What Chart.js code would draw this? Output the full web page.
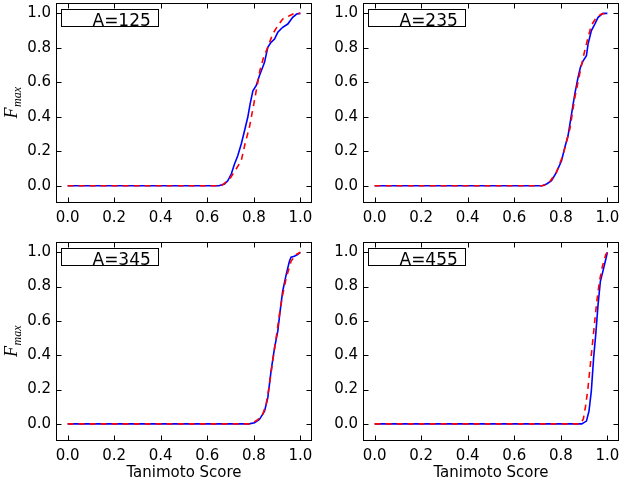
<!DOCTYPE html>
<html>
<head>
<meta charset="utf-8">
<script src="https://cdn.jsdelivr.net/npm/chart.js@4.4.1/dist/chart.umd.min.js"></script>
<style>
  html, body { margin: 0; padding: 0; background: #fff; }
  #wrap { position: relative; width: 626px; height: 482px; }
  canvas { position: absolute; }
</style>
</head>
<body>
<div id="wrap">
  <canvas id="c125" width="313" height="236" style="left:0;top:0"></canvas>
  <canvas id="c235" width="313" height="236" style="left:313px;top:0"></canvas>
  <canvas id="c345" width="313" height="246" style="left:0;top:236px"></canvas>
  <canvas id="c455" width="313" height="246" style="left:313px;top:236px"></canvas>
</div>
<script>
/* ---- data ---- */
const xTicks = [0, 0.2, 0.4, 0.6, 0.8, 1.0];
const yTicks = [0, 0.2, 0.4, 0.6, 0.8, 1.0];
const panelLabels = ['A=125', 'A=235', 'A=345', 'A=455'];

// A=125
const blue125X = [0, 0.65, 0.674, 0.688, 0.703, 0.717, 0.731, 0.746, 0.76, 0.774, 0.784, 0.796, 0.81, 0.824, 0.838, 0.846, 0.86, 0.874, 0.889, 0.903, 0.924, 0.946, 0.967, 0.984, 1.0];
const blue125Y = [0, 0, 0.01, 0.029, 0.068, 0.126, 0.174, 0.242, 0.319, 0.397, 0.474, 0.551, 0.58, 0.638, 0.687, 0.716, 0.803, 0.832, 0.851, 0.89, 0.919, 0.938, 0.977, 0.996, 1.0];
const red125X = [0, 0.66, 0.696, 0.724, 0.746, 0.762, 0.781, 0.8, 0.813, 0.826, 0.842, 0.86, 0.881, 0.903, 0.924, 0.953, 0.974, 1.0];
const red125Y = [0, 0, 0.039, 0.097, 0.145, 0.242, 0.339, 0.474, 0.571, 0.667, 0.745, 0.803, 0.88, 0.928, 0.967, 0.986, 1.0, 1.0];

// A=235
const blue235X = [0, 0.72, 0.739, 0.76, 0.781, 0.803, 0.817, 0.831, 0.846, 0.86, 0.874, 0.884, 0.896, 0.91, 0.917, 0.924, 0.931, 0.946, 0.96, 0.981, 1.0];
const blue235Y = [0, 0, 0.01, 0.029, 0.078, 0.145, 0.222, 0.29, 0.416, 0.532, 0.629, 0.686, 0.725, 0.754, 0.822, 0.86, 0.899, 0.938, 0.977, 1.0, 1.0];
const red235X = [0, 0.72, 0.745, 0.781, 0.81, 0.839, 0.86, 0.881, 0.896, 0.917, 0.931, 0.953, 0.974, 1.0];
const red235Y = [0, 0, 0.01, 0.078, 0.18, 0.33, 0.51, 0.648, 0.745, 0.86, 0.93, 0.977, 0.996, 1.0];

// A=345
const blue345X = [0, 0.78, 0.803, 0.824, 0.846, 0.86, 0.874, 0.889, 0.903, 0.913, 0.924, 0.939, 0.953, 0.96, 0.974, 0.988, 1.0];
const blue345Y = [0, 0, 0.006, 0.025, 0.074, 0.151, 0.307, 0.443, 0.54, 0.657, 0.773, 0.87, 0.948, 0.971, 0.977, 0.987, 1.0];
const red345X = [0, 0.78, 0.796, 0.817, 0.838, 0.853, 0.867, 0.881, 0.898, 0.91, 0.924, 0.939, 0.96, 0.981, 1.0];
const red345Y = [0, 0, 0.006, 0.025, 0.054, 0.113, 0.229, 0.365, 0.52, 0.637, 0.753, 0.85, 0.948, 0.987, 1.0];

// A=455
const blue455X = [0, 0.89, 0.91, 0.921, 0.931, 0.941, 0.95, 0.96, 0.97, 0.981, 0.993, 1.0];
const blue455Y = [0, 0, 0.016, 0.074, 0.19, 0.385, 0.52, 0.695, 0.831, 0.89, 0.958, 1.0];
const red455X = [0, 0.885, 0.897, 0.906, 0.916, 0.928, 0.94, 0.953, 0.966, 0.979, 0.993, 1.0];
const red455Y = [0, 0, 0.03, 0.1, 0.2, 0.36, 0.52, 0.695, 0.831, 0.92, 0.986, 1.0];

/* ---- drawing ---- */
const FONT = 'DejaVu Sans';
const pts = (xs, ys) => xs.map((v, i) => ({ x: v, y: ys[i] }));

// box, inward ticks, legend box and y label
const framePlugin = {
    id: 'frame',
    afterDraw(chart, args, opts) {
        const { ctx, chartArea: a, scales: { x, y } } = chart;
        const L = Math.round(a.left) + 0.5, R = Math.round(a.right) - 0.5;
        const T = Math.round(a.top) + 0.5, B = Math.round(a.bottom) - 0.5;
        ctx.save();
        ctx.strokeStyle = '#000';
        ctx.lineWidth = 1;
        ctx.beginPath();
        xTicks.forEach(v => {
            const px = Math.round(x.getPixelForValue(v)) + 0.5;
            ctx.moveTo(px, B); ctx.lineTo(px, B - 5);
            ctx.moveTo(px, T); ctx.lineTo(px, T + 5);
        });
        yTicks.forEach(v => {
            const py = Math.round(y.getPixelForValue(v)) + 0.5;
            ctx.moveTo(L, py); ctx.lineTo(L + 5, py);
            ctx.moveTo(R, py); ctx.lineTo(R - 5, py);
        });
        ctx.stroke();
        ctx.strokeRect(L, T, R - L, B - T);

        // legend box
        const bx = L + 5, by = T + 6;
        ctx.fillStyle = '#fff';
        ctx.fillRect(bx, by, 97, 17);
        ctx.strokeRect(bx, by, 97, 17);
        ctx.fillStyle = '#000';
        ctx.font = '17px "' + FONT + '"';
        ctx.textBaseline = 'alphabetic';
        ctx.textAlign = 'left';
        ctx.fillText(opts.label, bx + 31, by + 16);

        // y label F_max
        if (opts.yLabel) {
            ctx.translate(16.5, (a.top + a.bottom) / 2);
            ctx.rotate(-Math.PI / 2);
            ctx.font = 'italic 18px "Liberation Serif"';
            const wF = ctx.measureText('F').width;
            ctx.font = 'italic 12px "Liberation Serif"';
            const wS = ctx.measureText('max').width;
            const start = -(wF + wS) / 2;
            ctx.font = 'italic 18px "Liberation Serif"';
            ctx.fillText('F', start, 0);
            ctx.font = 'italic 12px "Liberation Serif"';
            ctx.fillText('max', start + wF + 0.5, 4);
        }
        ctx.restore();
    }
};

function makePanel(id, label, blueX, blueY, redX, redY, cfg) {
    const tickFont = { family: FONT, size: 15 };
    new Chart(document.getElementById(id), {
        type: 'line',
        data: {
            datasets: [
                { data: pts(blueX, blueY), borderColor: '#0000ff', borderWidth: 1.6, pointRadius: 0, order: 2 },
                { data: pts(redX, redY), borderColor: '#ff0000', borderWidth: 1.6, borderDash: [6, 5], pointRadius: 0, order: 1 }
            ]
        },
        options: {
            responsive: false, animation: false,
            layout: { padding: { left: 0, top: cfg.padTop, right: cfg.padRight, bottom: 0 } },
            plugins: { legend: { display: false }, tooltip: { enabled: false }, frame: { label, yLabel: cfg.yLabel } },
            scales: {
                x: {
                    type: 'linear', min: -0.05, max: 1.05,
                    afterBuildTicks: s => { s.ticks = xTicks.map(v => ({ value: v })); },
                    afterFit: s => { s.height = cfg.xAxisH; s.paddingLeft = 0; s.paddingRight = 0; },
                    ticks: { callback: v => v.toFixed(1), font: tickFont, color: '#000', padding: 6, maxRotation: 0, autoSkip: false },
                    grid: { display: false, drawTicks: false },
                    border: { display: false },
                    title: { display: cfg.xTitle, text: 'Tanimoto Score', color: '#000', font: tickFont, padding: { top: 0, bottom: 0 } }
                },
                y: {
                    type: 'linear', min: -0.1, max: 1.06,
                    afterBuildTicks: s => { s.ticks = yTicks.map(v => ({ value: v })); },
                    afterFit: s => { s.width = cfg.yAxisW; s.paddingTop = 0; s.paddingBottom = 0; },
                    ticks: { callback: v => v.toFixed(1), font: tickFont, color: '#000', padding: 5 },
                    grid: { display: false, drawTicks: false },
                    border: { display: false }
                }
            }
        },
        plugins: [framePlugin]
    });
}

makePanel('c125', panelLabels[0], blue125X, blue125Y, red125X, red125Y, { yAxisW: 56, padTop: 3, padRight: 1, xAxisH: 33, yLabel: true, xTitle: false });
makePanel('c235', panelLabels[1], blue235X, blue235Y, red235X, red235Y, { yAxisW: 50, padTop: 3, padRight: 7, xAxisH: 33, yLabel: false, xTitle: false });
makePanel('c345', panelLabels[2], blue345X, blue345Y, red345X, red345Y, { yAxisW: 56, padTop: 6, padRight: 1, xAxisH: 41, yLabel: true, xTitle: true });
makePanel('c455', panelLabels[3], blue455X, blue455Y, red455X, red455Y, { yAxisW: 50, padTop: 6, padRight: 7, xAxisH: 41, yLabel: false, xTitle: true });
</script>
</body>
</html>
